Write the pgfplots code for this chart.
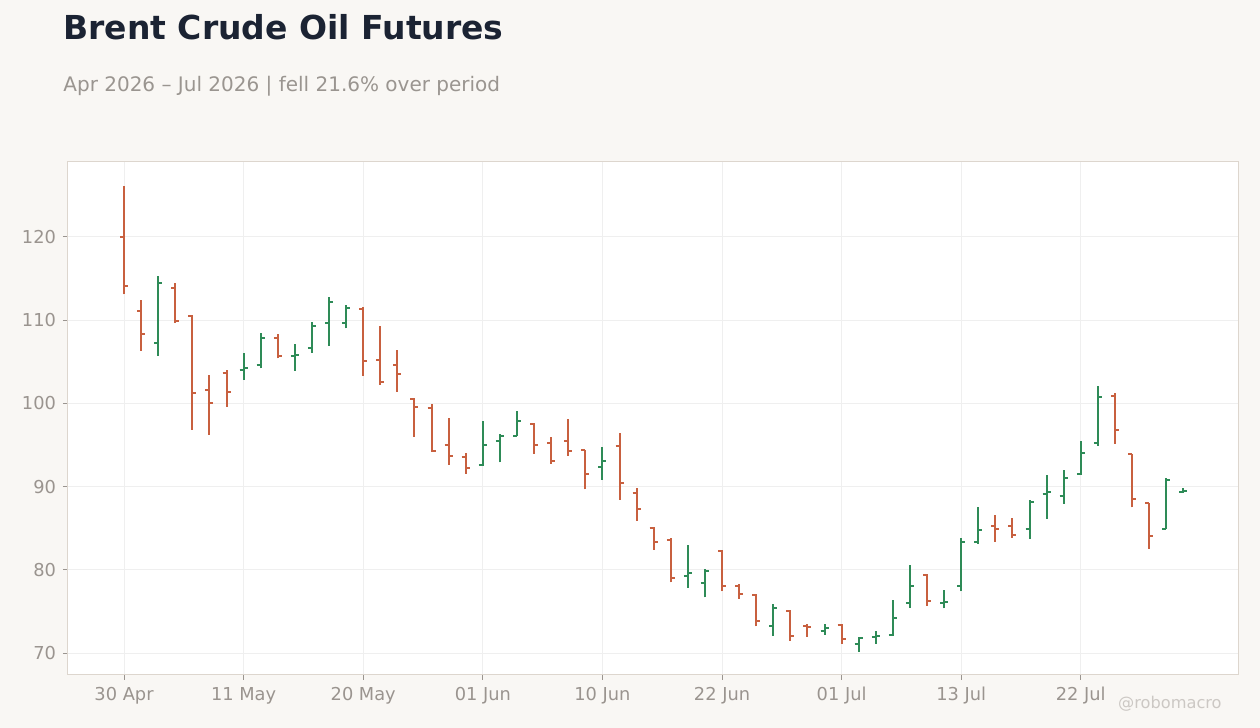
\documentclass[border=0pt]{standalone}
\usepackage{fontspec}
\setmainfont{DejaVu Sans}
\usepackage{pgfplots}
\pgfplotsset{compat=1.18}
\usepackage{pgfplotstable}

\definecolor{bg}{HTML}{F9F7F4}
\definecolor{titlec}{HTML}{1B2333}
\definecolor{subc}{HTML}{9A9590}
\definecolor{tickc}{HTML}{9A948F}
\definecolor{framec}{HTML}{DDD6CE}
\definecolor{gridc}{HTML}{EFEFEF}
\definecolor{upc}{HTML}{2E8B57}
\definecolor{downc}{HTML}{C8603F}
\definecolor{wmc}{HTML}{CCC8C4}

% open tick to the left, close tick to the right
\pgfdeclareplotmark{otick}{%
  \pgfpathmoveto{\pgfqpoint{-\pgfplotmarksize}{0pt}}%
  \pgfpathlineto{\pgfqpoint{0pt}{0pt}}%
  \pgfusepathqstroke}
\pgfdeclareplotmark{ctick}{%
  \pgfpathmoveto{\pgfqpoint{0pt}{0pt}}%
  \pgfpathlineto{\pgfqpoint{\pgfplotmarksize}{0pt}}%
  \pgfusepathqstroke}

% i = trading day index, o h l c
\pgfplotstableread{
i  o      h      l      c
0  120.0  126.1  113.1  114.1
1  111.1  112.4  106.3  108.3
3  113.9  114.5  109.7  109.9
4  110.5  110.6  96.8   101.25
5  101.65 103.4  96.2   100.1
6  103.7  104.0  99.6   101.4
9  107.8  108.3  105.4  105.7
14 111.3  111.6  103.3  105.1
15 105.25 109.3  102.25 102.6
16 104.65 106.4  101.4  103.5
17 100.55 100.7  96.0   99.6
18 99.5   99.9   94.2   94.3
19 95.05  98.25  92.6   93.7
20 93.5   94.0   91.55  92.2
24 97.5   97.6   93.95  95.05
25 95.2   95.9   92.75  93.1
26 95.5   98.1   93.7   94.3
27 94.45  94.45  89.65  91.55
29 94.9   96.45  88.4   90.4
30 89.2   89.8   85.9   87.35
31 85.05  85.2   82.4   83.3
32 83.6   83.8   78.5   79.05
35 82.3   82.35  77.4   78.0
36 78.1   78.25  76.55  77.1
37 77.0   77.1   73.2   73.8
39 75.0   75.15  71.5   72.05
40 73.25  73.5   71.95  73.15
42 73.4   73.5   71.1   71.65
47 79.4   79.45  75.7   76.3
51 85.3   86.6   83.4   84.95
52 85.3   86.2   83.85  84.2
58 100.9  101.2  95.15  96.85
59 93.95  93.95  87.5   88.45
60 88.05  88.05  82.55  84.1
}\down

\pgfplotstableread{
i  o      h      l      c
2  107.2  115.3  105.7  114.5
7  104.05 106.1  102.85 104.3
8  104.55 108.5  104.2  107.9
10 105.7  107.1  103.9  105.85
11 106.7  109.8  106.1  109.3
12 109.7  112.8  106.95 112.2
13 109.6  111.8  109.0  111.4
21 92.55  97.9   92.5   95.05
22 95.5   96.3   92.9   96.1
23 96.1   99.1   96.1   97.9
28 92.3   94.8   90.85  93.1
33 79.3   83.0   77.85  79.65
34 78.45  80.1   76.7   79.9
38 73.2   75.9   72.1   75.35
41 72.7   73.5   72.2   72.95
43 71.1   71.9   70.15  71.85
44 71.95  72.6   71.1   72.1
45 72.2   76.4   72.1   74.25
46 76.05  80.6   75.45  78.1
48 76.0   77.6   75.35  76.1
49 78.05  83.8   77.4   83.4
50 83.4   87.55  83.1   84.8
53 84.95  88.4   83.75  88.2
54 89.05  91.4   86.15  89.3
55 88.85  92.0   87.95  91.05
56 91.55  95.5   91.45  94.05
57 95.25  102.1  94.9   100.8
61 84.95  91.0   84.85  90.8
62 89.35  89.8   89.25  89.45
}\up

\begin{document}
\begin{tikzpicture}
\path[use as bounding box, fill=bg] (0,0) rectangle (630pt,364pt);
\begin{axis}[
  at={(34pt,26.5pt)}, anchor=south west,
  scale only axis,
  width=585pt, height=256.5pt,
  xmin=-3.28, xmax=65.2,
  ymin=67.36, ymax=129.0,
  axis background/.style={fill=white},
  axis line style={framec, line width=0.5pt},
  grid=major,
  major grid style={gridc, line width=0.5pt},
  tick align=outside,
  major tick length=2.5pt,
  major tick style={tickc, line width=0.5pt},
  xtick pos=bottom, ytick pos=left,
  xtick={0,7,...,56},
  xticklabels={30 Apr,11 May,20 May,01 Jun,10 Jun,22 Jun,01 Jul,13 Jul,22 Jul},
  ytick={70,80,...,120},
  /pgf/number format/assume math mode=true,
  ticklabel style={font=\fontsize{8.9pt}{10pt}\selectfont, text=tickc},
  mark size=2pt,
]
% down bars: high-low line, open and close ticks
\addplot[draw=none, mark=none,
  error bars/.cd, y dir=plus, y explicit, error mark=none,
  error bar style={draw=downc, line width=1pt}]
  table[x=i, y=l, y error plus expr=\thisrow{h}-\thisrow{l}] {\down};
\addplot[only marks, mark=otick, mark options={downc, line width=1pt}]
  table[x=i, y=o] {\down};
\addplot[only marks, mark=ctick, mark options={downc, line width=1pt}]
  table[x=i, y=c] {\down};
% up bars
\addplot[draw=none, mark=none,
  error bars/.cd, y dir=plus, y explicit, error mark=none,
  error bar style={draw=upc, line width=1pt}]
  table[x=i, y=l, y error plus expr=\thisrow{h}-\thisrow{l}] {\up};
\addplot[only marks, mark=otick, mark options={upc, line width=1pt}]
  table[x=i, y=o] {\up};
\addplot[only marks, mark=ctick, mark options={upc, line width=1pt}]
  table[x=i, y=c] {\up};
\end{axis}
\node[anchor=base west, inner sep=0pt, text=titlec]
  at (31.5pt,344.35pt) {\fontsize{16.5pt}{20pt}\selectfont\bfseries Brent Crude Oil Futures};
\node[anchor=base west, inner sep=0pt, text=subc]
  at (31.5pt,318.15pt) {\fontsize{10pt}{12pt}\selectfont Apr 2026 – Jul 2026 | fell 21.6\% over period};
\node[anchor=base east, inner sep=0pt, text=wmc]
  at (611pt,9.5pt) {\fontsize{8.1pt}{10pt}\selectfont @robomacro};
\end{tikzpicture}
\end{document}
